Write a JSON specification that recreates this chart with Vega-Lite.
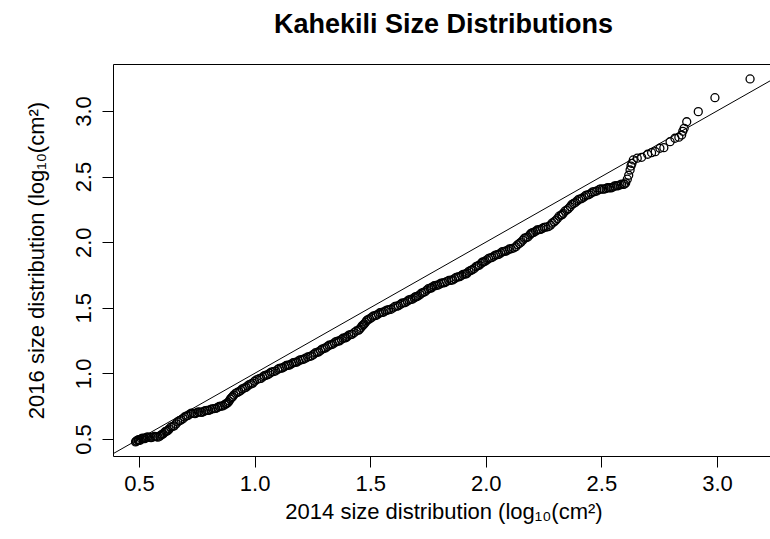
{
  "$schema": "https://vega.github.io/schema/vega-lite/v6.json",
  "width": 657,
  "height": 392,
  "autosize": {"type": "none"},
  "padding": {"left": 113, "top": 64, "right": 0, "bottom": 83},
  "background": "white",
  "config": {"view": {"stroke": "black", "strokeWidth": 1}, "font": "Liberation Sans"},
  "title": {"text": "Kahekili Size Distributions", "fontSize": 27, "fontWeight": "bold", "font": "Liberation Sans", "color": "black", "anchor": "middle", "baseline": "alphabetic", "offset": 4, "dx": 2},
  "datasets": {
    "diag": [{"x": 0.3, "y": 0.3}, {"x": 3.4, "y": 3.4}],
    "qq": [
      {"x":0.485,"y":0.478},{"x":0.49,"y":0.485},{"x":0.495,"y":0.49},{"x":0.5,"y":0.492},{"x":0.51,"y":0.5},{"x":0.52,"y":0.505},{"x":0.53,"y":0.51},
      {"x":0.545,"y":0.512},{"x":0.56,"y":0.515},{"x":0.575,"y":0.518},{"x":0.59,"y":0.522},
      {"x":0.6,"y":0.535},{"x":0.61,"y":0.55},{"x":0.62,"y":0.56},{"x":0.63,"y":0.575},
      {"x":0.645,"y":0.595},{"x":0.66,"y":0.615},{"x":0.675,"y":0.64},{"x":0.69,"y":0.655},{"x":0.705,"y":0.675},{"x":0.72,"y":0.69},
      {"x":0.735,"y":0.695},{"x":0.75,"y":0.7},{"x":0.765,"y":0.705},{"x":0.78,"y":0.71},{"x":0.795,"y":0.718},{"x":0.81,"y":0.725},{"x":0.825,"y":0.732},{"x":0.84,"y":0.74},
      {"x":0.855,"y":0.75},{"x":0.87,"y":0.76},{"x":0.88,"y":0.77},
      {"x":0.89,"y":0.79},{"x":0.9,"y":0.815},{"x":0.91,"y":0.835},{"x":0.925,"y":0.855},{"x":0.94,"y":0.87},
      {"x":0.955,"y":0.888},{"x":0.97,"y":0.905},{"x":0.985,"y":0.92},{"x":1.0,"y":0.94},{"x":1.02,"y":0.96},
      {"x":1.035,"y":0.973},{"x":1.05,"y":0.986},{"x":1.065,"y":1.0},{"x":1.08,"y":1.013},{"x":1.1,"y":1.03},
      {"x":1.115,"y":1.04},{"x":1.13,"y":1.052},{"x":1.145,"y":1.062},{"x":1.16,"y":1.073},{"x":1.175,"y":1.084},{"x":1.19,"y":1.095},{"x":1.205,"y":1.105},{"x":1.22,"y":1.116},{"x":1.24,"y":1.13},
      {"x":1.255,"y":1.145},{"x":1.27,"y":1.16},{"x":1.285,"y":1.175},{"x":1.3,"y":1.19},{"x":1.315,"y":1.205},{"x":1.33,"y":1.218},{"x":1.345,"y":1.232},{"x":1.36,"y":1.245},{"x":1.375,"y":1.258},{"x":1.39,"y":1.27},{"x":1.4,"y":1.28},
      {"x":1.415,"y":1.295},{"x":1.43,"y":1.31},{"x":1.45,"y":1.33},
      {"x":1.46,"y":1.35},{"x":1.47,"y":1.37},{"x":1.48,"y":1.39},{"x":1.49,"y":1.41},
      {"x":1.505,"y":1.425},{"x":1.52,"y":1.44},{"x":1.535,"y":1.452},{"x":1.55,"y":1.465},{"x":1.565,"y":1.475},{"x":1.58,"y":1.485},{"x":1.6,"y":1.5},
      {"x":1.615,"y":1.512},{"x":1.63,"y":1.525},{"x":1.645,"y":1.538},{"x":1.66,"y":1.55},{"x":1.675,"y":1.563},{"x":1.69,"y":1.575},{"x":1.7,"y":1.585},
      {"x":1.715,"y":1.6},{"x":1.73,"y":1.618},{"x":1.745,"y":1.635},{"x":1.76,"y":1.65},{"x":1.77,"y":1.66},
      {"x":1.785,"y":1.67},{"x":1.8,"y":1.68},{"x":1.815,"y":1.69},{"x":1.83,"y":1.7},{"x":1.85,"y":1.71},{"x":1.865,"y":1.722},{"x":1.88,"y":1.735},{"x":1.895,"y":1.746},{"x":1.91,"y":1.757},{"x":1.92,"y":1.765},
      {"x":1.935,"y":1.785},{"x":1.95,"y":1.8},{"x":1.965,"y":1.82},{"x":1.98,"y":1.838},{"x":1.99,"y":1.85},
      {"x":2.005,"y":1.865},{"x":2.02,"y":1.88},{"x":2.035,"y":1.893},{"x":2.05,"y":1.905},{"x":2.065,"y":1.918},{"x":2.08,"y":1.93},{"x":2.095,"y":1.94},{"x":2.11,"y":1.95},{"x":2.13,"y":1.965},
      {"x":2.145,"y":1.99},{"x":2.16,"y":2.015},{"x":2.175,"y":2.035},{"x":2.19,"y":2.055},{"x":2.2,"y":2.07},
      {"x":2.215,"y":2.083},{"x":2.23,"y":2.095},{"x":2.245,"y":2.105},{"x":2.26,"y":2.115},{"x":2.28,"y":2.13},
      {"x":2.295,"y":2.155},{"x":2.31,"y":2.18},{"x":2.325,"y":2.205},{"x":2.335,"y":2.22},{"x":2.35,"y":2.245},{"x":2.365,"y":2.27},{"x":2.38,"y":2.295},
      {"x":2.395,"y":2.315},{"x":2.41,"y":2.33},{"x":2.425,"y":2.345},{"x":2.44,"y":2.36},{"x":2.455,"y":2.373},{"x":2.47,"y":2.385},{"x":2.49,"y":2.4},
      {"x":2.505,"y":2.405},{"x":2.52,"y":2.41},{"x":2.535,"y":2.415},{"x":2.55,"y":2.42},{"x":2.565,"y":2.43},{"x":2.58,"y":2.437},{"x":2.595,"y":2.44},{"x":2.605,"y":2.452},
      {"x":2.612,"y":2.48},{"x":2.618,"y":2.51},{"x":2.624,"y":2.55},{"x":2.628,"y":2.58},{"x":2.632,"y":2.6},{"x":2.638,"y":2.627},{"x":2.655,"y":2.64},{"x":2.674,"y":2.647},
      {"x":2.7,"y":2.67},{"x":2.717,"y":2.682},{"x":2.733,"y":2.69},{"x":2.753,"y":2.716},{"x":2.77,"y":2.72},{"x":2.797,"y":2.766},{"x":2.818,"y":2.792},{"x":2.835,"y":2.8},{"x":2.847,"y":2.817},{"x":2.852,"y":2.845},{"x":2.858,"y":2.868},{"x":2.869,"y":2.918},
      {"x":2.919,"y":2.995},{"x":2.991,"y":3.101},{"x":3.143,"y":3.244},
      {"x":0.488,"y":0.483},{"x":0.498,"y":0.495},{"x":0.505,"y":0.49},{"x":0.515,"y":0.507},{"x":0.525,"y":0.503},{"x":0.537,"y":0.516},{"x":0.552,"y":0.51},{"x":0.567,"y":0.52},{"x":0.582,"y":0.514},{"x":0.595,"y":0.53},
      {"x":0.605,"y":0.54},{"x":0.615,"y":0.558},{"x":0.625,"y":0.565},{"x":0.637,"y":0.59},{"x":0.652,"y":0.6},{"x":0.667,"y":0.63},{"x":0.682,"y":0.645},{"x":0.697,"y":0.668},{"x":0.712,"y":0.68},{"x":0.727,"y":0.697},
      {"x":0.742,"y":0.693},{"x":0.757,"y":0.707},{"x":0.772,"y":0.703},{"x":0.787,"y":0.716},{"x":0.802,"y":0.718},{"x":0.817,"y":0.73},{"x":0.832,"y":0.733},{"x":0.847,"y":0.748},{"x":0.862,"y":0.752},{"x":0.875,"y":0.768},
      {"x":0.885,"y":0.778},{"x":0.895,"y":0.805},{"x":0.905,"y":0.822},{"x":0.918,"y":0.848},{"x":0.932,"y":0.86},{"x":0.947,"y":0.882},{"x":0.962,"y":0.893},{"x":0.977,"y":0.915},{"x":0.992,"y":0.926},{"x":1.01,"y":0.953},
      {"x":1.027,"y":0.962},{"x":1.042,"y":0.982},{"x":1.057,"y":0.99},{"x":1.072,"y":1.01},{"x":1.09,"y":1.018},{"x":1.107,"y":1.038},{"x":1.122,"y":1.043},{"x":1.137,"y":1.06},{"x":1.152,"y":1.064},{"x":1.167,"y":1.081},
      {"x":1.182,"y":1.086},{"x":1.197,"y":1.103},{"x":1.212,"y":1.108},{"x":1.23,"y":1.125},{"x":1.247,"y":1.134},{"x":1.262,"y":1.156},{"x":1.277,"y":1.164},{"x":1.292,"y":1.185},{"x":1.307,"y":1.194},{"x":1.322,"y":1.215},
      {"x":1.337,"y":1.222},{"x":1.352,"y":1.242},{"x":1.367,"y":1.248},{"x":1.382,"y":1.268},{"x":1.395,"y":1.272},{"x":1.407,"y":1.291},{"x":1.422,"y":1.298},{"x":1.44,"y":1.323},{"x":1.455,"y":1.338},{"x":1.465,"y":1.362},
      {"x":1.475,"y":1.378},{"x":1.485,"y":1.402},{"x":1.497,"y":1.415},{"x":1.512,"y":1.436},{"x":1.527,"y":1.443},{"x":1.542,"y":1.462},{"x":1.557,"y":1.466},{"x":1.572,"y":1.482},{"x":1.59,"y":1.489},{"x":1.607,"y":1.51},
      {"x":1.622,"y":1.515},{"x":1.637,"y":1.535},{"x":1.652,"y":1.54},{"x":1.667,"y":1.56},{"x":1.682,"y":1.566},{"x":1.695,"y":1.583},{"x":1.707,"y":1.59},{"x":1.722,"y":1.612},{"x":1.737,"y":1.622},{"x":1.752,"y":1.646},
      {"x":1.765,"y":1.652},{"x":1.777,"y":1.668},{"x":1.792,"y":1.672},{"x":1.807,"y":1.688},{"x":1.822,"y":1.692},{"x":1.84,"y":1.708},{"x":1.857,"y":1.712},{"x":1.872,"y":1.732},{"x":1.887,"y":1.737},{"x":1.902,"y":1.755},
      {"x":1.915,"y":1.758},{"x":1.927,"y":1.778},{"x":1.942,"y":1.79},{"x":1.957,"y":1.813},{"x":1.972,"y":1.825},{"x":1.985,"y":1.848},{"x":1.997,"y":1.855},{"x":2.012,"y":1.876},{"x":2.027,"y":1.884},{"x":2.042,"y":1.902},
      {"x":2.057,"y":1.908},{"x":2.072,"y":1.928},{"x":2.087,"y":1.932},{"x":2.102,"y":1.948},{"x":2.12,"y":1.955},{"x":2.137,"y":1.98},{"x":2.152,"y":2.0},{"x":2.167,"y":2.03},{"x":2.182,"y":2.04},{"x":2.195,"y":2.066},
      {"x":2.207,"y":2.075},{"x":2.222,"y":2.093},{"x":2.237,"y":2.097},{"x":2.252,"y":2.113},{"x":2.27,"y":2.118},{"x":2.287,"y":2.145},{"x":2.302,"y":2.165},{"x":2.317,"y":2.198},{"x":2.33,"y":2.21},{"x":2.342,"y":2.236},
      {"x":2.357,"y":2.255},{"x":2.372,"y":2.287},{"x":2.387,"y":2.302},{"x":2.402,"y":2.326},{"x":2.417,"y":2.335},{"x":2.432,"y":2.356},{"x":2.447,"y":2.363},{"x":2.462,"y":2.383},{"x":2.48,"y":2.39},{"x":2.497,"y":2.406},
      {"x":2.512,"y":2.404},{"x":2.527,"y":2.415},{"x":2.542,"y":2.414},{"x":2.557,"y":2.428},{"x":2.572,"y":2.43},{"x":2.587,"y":2.442},{"x":2.6,"y":2.443}
    ]
  },
  "encoding": {
    "x": {
      "field": "x", "type": "quantitative",
      "scale": {"domain": [0.3875, 3.2292], "nice": false, "zero": false},
      "axis": {
        "values": [0.5, 1, 1.5, 2, 2.5, 3], "format": ".1f", "grid": false, "domain": false,
        "tickSize": 11, "tickColor": "black", "tickWidth": 1,
        "labelFontSize": 22, "labelColor": "black", "labelPadding": 6, "labelBaseline": "top",
        "labelFlush": false, "labelOverlap": false,
        "title": "2014 size distribution (log₁₀(cm²)", "titleFontSize": 22, "titleFontWeight": "normal", "titleColor": "black",
        "titleX": 330.5, "titleY": 62, "titleAlign": "center", "titleBaseline": "alphabetic"
      }
    },
    "y": {
      "field": "y", "type": "quantitative",
      "scale": {"domain": [0.3704, 3.358], "nice": false, "zero": false},
      "axis": {
        "values": [0.5, 1, 1.5, 2, 2.5, 3], "format": ".1f", "grid": false, "domain": false,
        "tickSize": 11, "tickColor": "black", "tickWidth": 1,
        "labelFontSize": 22, "labelColor": "black", "labelPadding": 12, "labelAngle": -90,
        "labelAlign": "center", "labelBaseline": "alphabetic",
        "labelFlush": false, "labelOverlap": false,
        "title": "2016 size distribution (log₁₀(cm²)", "titleFontSize": 22, "titleFontWeight": "normal", "titleColor": "black",
        "titleX": -70, "titleY": 196, "titleAngle": -90, "titleAlign": "center", "titleBaseline": "alphabetic"
      }
    }
  },
  "layer": [
    {
      "data": {"name": "diag"},
      "mark": {"type": "line", "clip": true, "color": "black", "strokeWidth": 1}
    },
    {
      "data": {"name": "qq"},
      "mark": {"type": "point", "shape": "circle", "filled": false, "color": "black", "size": 64, "strokeWidth": 1.3, "opacity": 1}
    }
  ]
}
